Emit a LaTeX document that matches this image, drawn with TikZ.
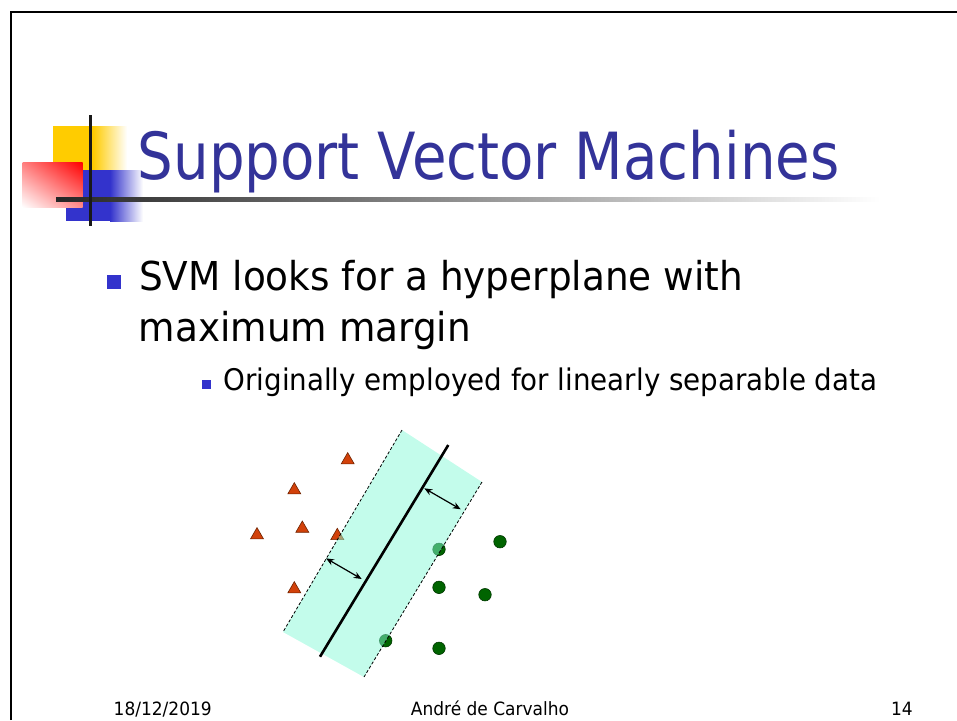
\documentclass[tikz,border=0pt]{standalone}
\usepackage{fontspec}
\usetikzlibrary{shapes.geometric,arrows.meta,shadings}
\newfontfamily\titlefont[FakeStretch=0.865]{DejaVu Sans}
\newfontfamily\bodyfont[FakeStretch=0.94]{DejaVu Sans}
\newfontfamily\subfont[FakeStretch=0.93]{DejaVu Sans}
\definecolor{titleblue}{RGB}{51,51,153}
\definecolor{bulletblue}{RGB}{51,51,204}
\definecolor{logoyellow}{RGB}{255,204,0}
\definecolor{marginfill}{RGB}{135,250,215}
\definecolor{trired}{RGB}{210,65,10}
\definecolor{triedge}{RGB}{110,35,0}
\definecolor{dotgreen}{RGB}{0,100,0}
\definecolor{dotedge}{RGB}{0,55,0}
\begin{document}
\begin{tikzpicture}[x=1pt,y=1pt,
  tri/.style={regular polygon, regular polygon sides=3, minimum size=15pt, inner sep=0pt,
              fill=trired, draw=triedge, line width=0.6pt},
  dot/.style={circle, minimum size=12.5pt, inner sep=0pt, fill=dotgreen, draw=dotedge, line width=0.6pt},
  bulletsq/.style={rectangle, inner sep=0pt, fill=bulletblue},
  marginline/.style={dash pattern=on 3pt off 2pt, line width=0.8pt},
  gap/.style={{Stealth[length=8pt,width=6.5pt]}-{Stealth[length=8pt,width=6.5pt]}, line width=1.2pt},
  txt/.style={inner sep=0pt, anchor=base west}
]
\useasboundingbox (0,0) rectangle (957,-720);

% slide frame
\draw[line width=2pt] (11,-720) -- (11,-12) -- (957,-12);

% title logo
\fill[logoyellow] (53,-126) rectangle (93,-171);
\shade[left color=logoyellow, right color=white] (93,-126) rectangle (127,-171);
\fill[bulletblue] (66,-170) rectangle (110,-221);
\shade[left color=bulletblue, right color=white] (110,-170) rectangle (143,-221);
\shade[upper left=red!50, upper right=red, lower left=white, lower right=red!45]
  (22.7,-162.7) rectangle (82.7,-207.7);
\shade[left color=black!85, right color=white] (56,-197.3) rectangle (880,-201.3);
\fill[black!90] (89,-115) rectangle (92.3,-226);

% title and bullets
\node[txt, font=\titlefont\fontsize{65}{65}\selectfont, text=titleblue] (title) at (137.5,-179.5)
  {Support Vector Machines};
\node[bulletsq, minimum size=14pt] (b1) at (113.8,-281.7) {};
\node[txt, font=\bodyfont\fontsize{39.8}{39.8}\selectfont] (l1) at (139,-290.7)
  {SVM looks for a hyperplane with};
\node[txt, font=\bodyfont\fontsize{39.8}{39.8}\selectfont] (l2) at (138.5,-341.7)
  {maximum margin};
\node[bulletsq, minimum size=9pt] (b2) at (206.2,-384.7) {};
\node[txt, font=\subfont\fontsize{29.8}{29.8}\selectfont] (l3) at (223.3,-390)
  {Originally employed for linearly separable data};

% footer
\node[txt, font=\subfont\fontsize{18.3}{18.3}\selectfont] (date) at (113.5,-715) {18/12/2019};
\node[inner sep=0pt, anchor=base, font=\subfont\fontsize{18.3}{18.3}\selectfont] (author) at (490,-715)
  {André de Carvalho};
\node[inner sep=0pt, anchor=base east, font=\subfont\fontsize{18.3}{18.3}\selectfont] (page) at (913,-715) {14};

% class A samples
\node[tri] (t1) at (347.7,-460.1) {};
\node[tri] (t2) at (294.3,-490.1) {};
\node[tri] (t3) at (302.3,-528.5) {};
\node[tri] (t4) at (257,-535.1) {};
\node[tri] (t5) at (337.3,-535.8) {};
\node[tri] (t6) at (294.3,-589.1) {};

% class B samples
\node[dot] (c1) at (439,-549.3) {};
\node[dot] (c2) at (500,-541.7) {};
\node[dot] (c3) at (439,-587.3) {};
\node[dot] (c4) at (485,-594.7) {};
\node[dot] (c5) at (385.7,-640.7) {};
\node[dot] (c6) at (439,-648.3) {};

% margin band
\coordinate (bTL) at (402,-430);
\coordinate (bTR) at (482,-482);
\coordinate (bBR) at (364,-677);
\coordinate (bBL) at (283,-632);
\fill[marginfill, fill opacity=0.5] (bTL) -- (bTR) -- (bBR) -- (bBL) -- cycle;
\draw[marginline] (bTL) -- (bBL);
\draw[marginline] (bTR) -- (bBR);

% separating hyperplane
\coordinate (hT) at (448.3,-445);
\coordinate (hB) at (320,-656.7);
\draw[line width=2.6pt] (hT) -- (hB);

% margin widths
\coordinate (a1s) at (424.3,-488.3);
\coordinate (a1e) at (460.7,-509.3);
\coordinate (a2s) at (326,-558.3);
\coordinate (a2e) at (361.7,-579);
\draw[gap] (a1s) -- (a1e);
\draw[gap] (a2s) -- (a2e);
\end{tikzpicture}
\end{document}
